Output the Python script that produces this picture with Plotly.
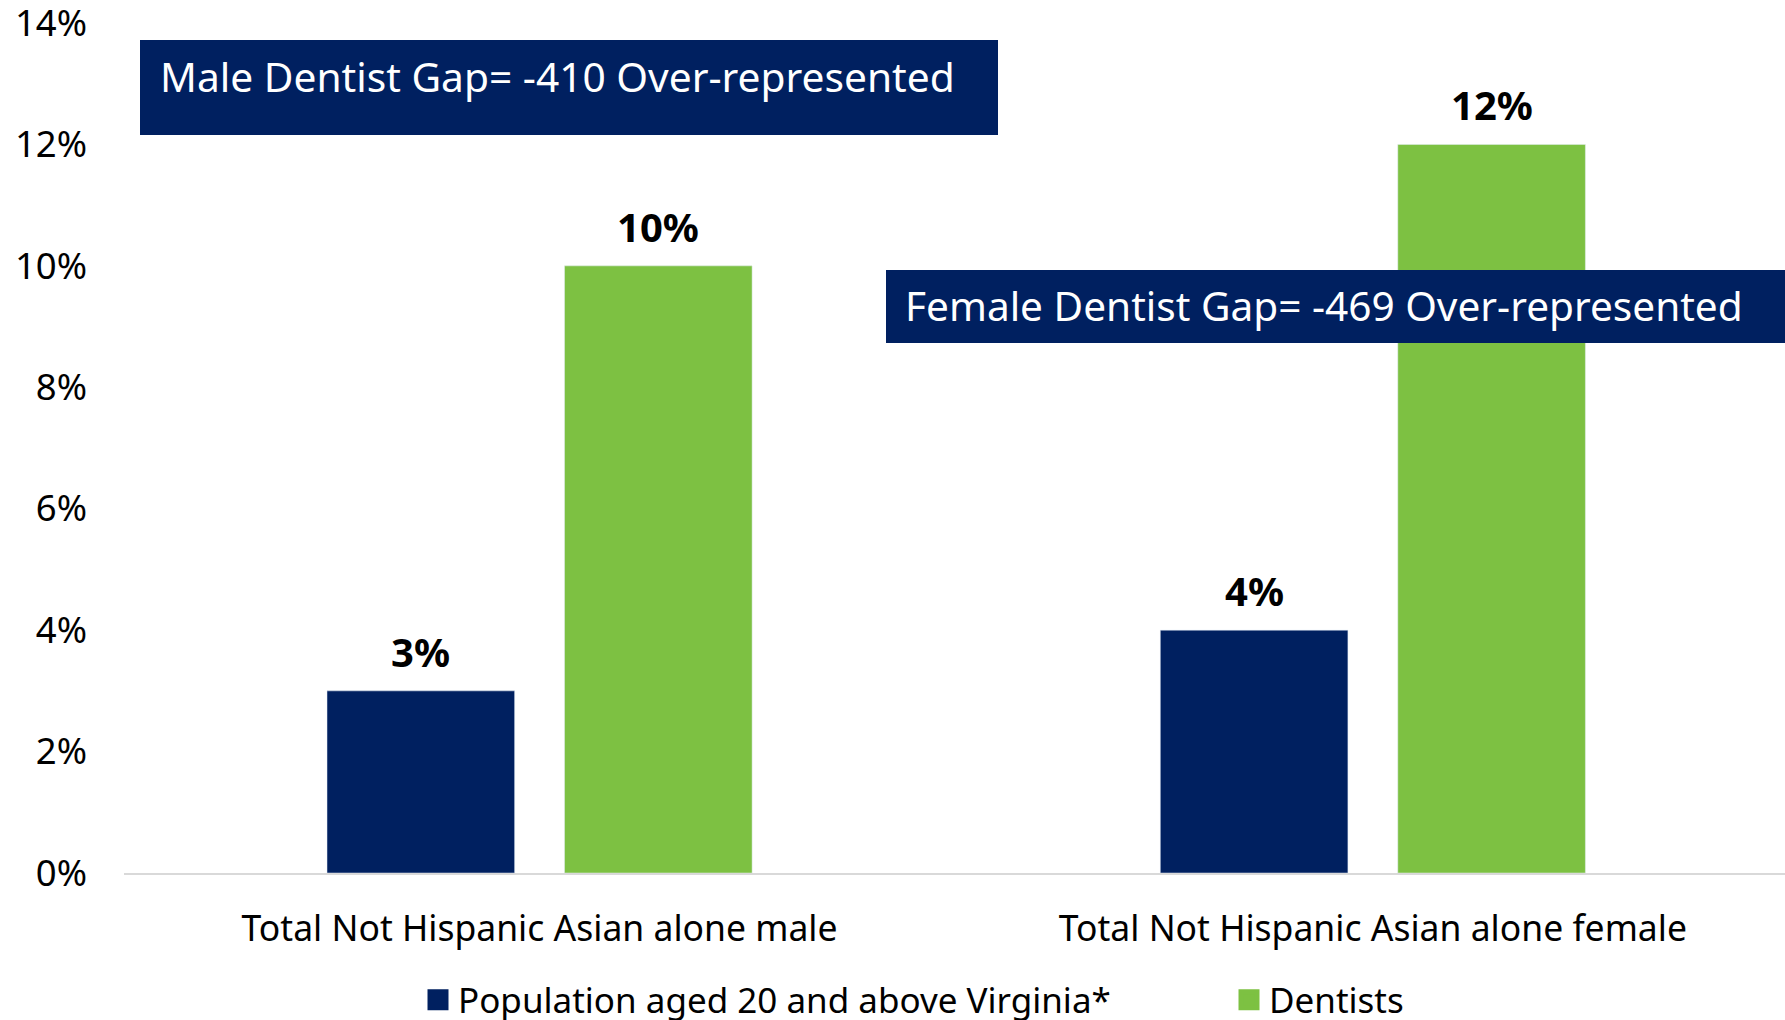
import plotly.graph_objects as go

categories = ["Total Not Hispanic Asian alone male", "Total Not Hispanic Asian alone female"]
population = [0.03, 0.04]
dentists = [0.10, 0.12]
series_names = ["Population aged 20 and above Virginia*", "Dentists"]
y_ticks = [0, 0.02, 0.04, 0.06, 0.08, 0.10, 0.12, 0.14]
male_gap_text = "Male Dentist Gap= -410 Over-represented"
female_gap_text = "Female Dentist Gap= -469 Over-represented"

NAVY = "#002060"
GREEN = "#7DC142"
FONT = "Noto Sans"

W, H = 1785, 1020
L, R, T, B = 124, 0, 23, 147
PW, PH = W - L - R, H - T - B
BARGAP, GROUPGAP = 0.43, 0.21
X_RANGE = [-0.4987, 1.4946]
unit = PW / (X_RANGE[1] - X_RANGE[0])
slot = unit * (1 - BARGAP) / 2
offset = slot / 2


def px(x):
    return (x - L) / PW


def py(y):
    return (H - B - y) / PH


fig = go.Figure()
colors = [NAVY, GREEN]
values = [population, dentists]
for name, vals, col in zip(series_names, values, colors):
    fig.add_trace(go.Bar(
        name=name, x=categories, y=vals, marker_color=col,
        legendgroup=name, showlegend=False,
    ))
    # legend proxy (no data) so the legend key is a larger square
    fig.add_trace(go.Scatter(
        name=name, x=[None], y=[None], mode="markers", legendgroup=name,
        marker=dict(symbol="square", size=16, color=col, line=dict(width=5, color=col)),
        showlegend=True,
    ))

annotations = []
for vals, sign in zip(values, [-1, 1]):
    for cat, v in zip(categories, vals):
        annotations.append(dict(
            x=cat, y=v, xref="x", yref="y", text=f"<b>{v:.0%}</b>", showarrow=False,
            xanchor="center", yanchor="bottom", xshift=sign * offset, yshift=10,
            font=dict(family=FONT, size=40, color="#000000"),
        ))

shapes = [
    dict(type="rect", xref="paper", yref="paper", x0=px(140), x1=px(998), y0=py(135), y1=py(40),
         fillcolor=NAVY, line=dict(width=0), layer="above"),
    dict(type="rect", xref="paper", yref="paper", x0=px(886), x1=px(1800), y0=py(343), y1=py(270),
         fillcolor=NAVY, line=dict(width=0), layer="above"),
]
annotations += [
    dict(text=male_gap_text, xref="paper", yref="paper", x=px(158), y=py(76), xanchor="left",
         yanchor="middle", showarrow=False, font=dict(family=FONT, size=40.7, color="#FFFFFF")),
    dict(text=female_gap_text, xref="paper", yref="paper", x=px(903), y=py(306), xanchor="left",
         yanchor="middle", showarrow=False, font=dict(family=FONT, size=40.6, color="#FFFFFF")),
]

fig.update_layout(
    width=W, height=H,
    margin=dict(l=L, r=R, t=T, b=B, autoexpand=False),
    paper_bgcolor="#FFFFFF", plot_bgcolor="#FFFFFF",
    barmode="group", bargap=BARGAP, bargroupgap=GROUPGAP,
    font=dict(family=FONT, size=35, color="#000000"),
    shapes=shapes, annotations=annotations,
    showlegend=True,
    legend=dict(orientation="h", x=px(418), xanchor="left", y=py(1000), yanchor="middle",
                entrywidth=766, entrywidthmode="pixels", itemsizing="trace",
                font=dict(family=FONT, size=35, color="#000000"),
                bgcolor="rgba(0,0,0,0)", borderwidth=0),
)
fig.update_xaxes(range=X_RANGE, showline=True, linecolor="#D9D9D9", linewidth=2, showgrid=False,
                 tickfont=dict(family=FONT, size=35.5, color="#000000"), ticks="",
                 ticklabelstandoff=23)
fig.update_yaxes(range=[0, 0.14], tickvals=y_ticks, tickformat=".0%", showgrid=False,
                 zeroline=False, showline=False, ticks="", ticklabeloverflow="allow",
                 tickfont=dict(family=FONT, size=36.5, color="#000000"),
                 ticklabelstandoff=36)

fig.write_html("out.html", config={"displayModeBar": False},
               post_script="document.body.style.margin='0px';")
